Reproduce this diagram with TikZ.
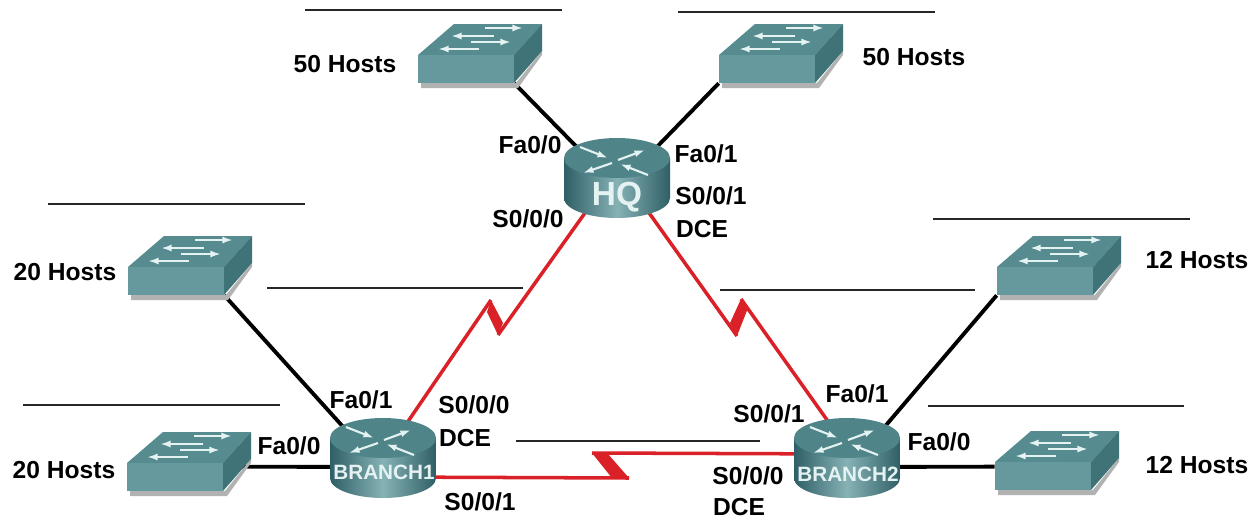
\documentclass[tikz,border=0pt]{standalone}
\usepackage{fontspec}
\setmainfont{Liberation Sans}
\usetikzlibrary{backgrounds,arrows.meta}
\definecolor{swfrontc}{HTML}{66999D}
\definecolor{swtopc}{HTML}{568B8F}
\definecolor{swsidec}{HTML}{3F7378}
\definecolor{rttopc}{HTML}{4F8489}
\definecolor{rtdark}{HTML}{2F5F66}
\definecolor{rtlight}{HTML}{86B2B5}
\definecolor{seriall}{HTML}{DA2128}
\tikzset{
	lbl/.style = {font=\fontsize{14}{16}\bfseries\selectfont,inner sep=0pt},
	rtlbl/.style = {text=white!90!teal,inner sep=0pt},
	swnode/.style = {rectangle,fill=swfrontc,minimum width=1.92cm,minimum height=.56cm,inner sep=0pt},
	rtnode/.style = {rectangle,minimum width=2.12cm,minimum height=1.6cm,inner sep=0pt},
	lanlink/.style = {line width=2.2pt,black},
	wanlink/.style = {line width=2pt,seriall},
	bolt/.style = {fill=seriall},
	noteline/.style = {line width=.9pt,black!85},
	iconarrow/.style = {white!90!teal,line width=1.2pt,-{Latex[length=6pt,width=4pt]}},
	switchicon/.pic = {
		\fill[black!30] (3,28) -- (98,28) -- (124,-4) -- (124,0) -- (100,33) -- (3,33) -- cycle;
		\fill[swtopc] (0,0) -- (36,-31) -- (124,-31) -- (96,0) -- cycle;
		\fill[swsidec] (96,0) -- (124,-31) -- (124,-4) -- (96,28) -- cycle;
		\draw[iconarrow] (67,-27) -- (105,-27);
		\draw[iconarrow] (76,-19) -- (33,-19);
		\draw[iconarrow] (53,-13) -- (93,-13);
		\draw[iconarrow] (61,-6) -- (20,-6);
	},
	routericon/.pic = {
		\shade[left color=rtdark,right color=rtdark,middle color=rtlight] (-53,-20) -- (-53,20) arc (180:0:53 and 20) -- (53,-20) -- cycle;
		\fill[rttopc] (0,-20) ellipse (53 and 20);
		\draw[iconarrow] (-37,-31) -- (-9,-20);
		\draw[iconarrow] (1,-18) -- (28,-28);
		\draw[iconarrow] (-5,-15) -- (-34,-5);
		\draw[iconarrow] (31,-3) -- (3,-14);
	}
}
\begin{document}
\begin{tikzpicture}[x=.02cm,y=-.02cm]
	\useasboundingbox (0,0) rectangle (1259,518);
	% switches
	\foreach \n/\x/\y in {swa/466/69,swb/767/69,swc/176/281,swd/175/477,swe/1045/281,swf/1043/476} {
		\pic at (\x-48,\y-14) {switchicon};
		\node[swnode] (\n) at (\x,\y) {};
	}
	% routers
	\foreach \n/\x/\y in {hq/617/178,bone/383/458,btwo/847/458} {
		\node[rtnode] (\n) at (\x,\y) {};
		\pic at (\n.center) {routericon};
	}
	\node[rtlbl,font=\fontsize{19}{22}\bfseries\selectfont] (hqname) at (617,197) {HQ};
	\node[rtlbl,font=\fontsize{11.8}{13}\bfseries\selectfont] (bonename) at (384,472) {BRANCH1};
	\node[rtlbl,font=\fontsize{11.8}{13}\bfseries\selectfont] (btwoname) at (848,474) {BRANCH2};
	% serial bends
	\coordinate (ba) at (498,335);
	\coordinate (bb) at (491,300);
	\coordinate (bc) at (737,336);
	\coordinate (bd) at (741,299);
	\coordinate (be) at (629,478);
	\coordinate (bf) at (592,453);
	\begin{scope}[on background layer]
		\draw[lanlink] (swa.south east) -- ([yshift=-.2cm]hq.center);
		\draw[lanlink] (swb.south west) -- ([yshift=-.2cm]hq.center);
		\draw[lanlink] (swc.south east) -- ([yshift=-.26cm]bone.center);
		\draw[lanlink] ([yshift=-.08cm]swd.north east) -- ([yshift=-.18cm]bone.center);
		\draw[lanlink] (swe.south west) -- ([yshift=-.26cm]btwo.center);
		\draw[lanlink] ([yshift=-.1cm]swf.north west) -- ([yshift=-.18cm]btwo.center);
		\draw[wanlink] ([yshift=.2cm]hq.center) -- (ba);
		\draw[wanlink] (bb) -- (bone.center);
		\draw[wanlink] ([yshift=.2cm]hq.center) -- (bc);
		\draw[wanlink] (bd) -- ([yshift=.2cm]btwo.center);
		\draw[wanlink] ([yshift=-.38cm]bone.center) -- (be);
		\draw[wanlink] (bf) -- ([yshift=.08cm]btwo.center);
		\fill[bolt] (bb) -- (503,323) -- (ba) -- (487,312) -- cycle;
		\fill[bolt] (bd) -- (748,308) -- (bc) -- (730,323) -- cycle;
		\fill[bolt] (bf) -- (608,454) -- (be) -- (612,478) -- cycle;
	\end{scope}
	% lines for the addresses
	\foreach \xa/\xb/\y in {305/562/10,678/935/12,48/305/204,267/523/288,720/975/290,933/1190/219,23/280/405,928/1184/406,516/760/441}
		\draw[noteline] (\xa,\y) -- (\xb,\y);
	% texts
	\foreach \x/\y/\t in {345/64/50 Hosts,914/57/50 Hosts,65/272/20 Hosts,1197/260/12 Hosts,64/470/20 Hosts,1197/465/12 Hosts,
		530/145/{Fa0/0},706/154/{Fa0/1},711/196/{S0/0/1},702/229/DCE,528/219/{S0/0/0},
		361/400/{Fa0/1},289/446/{Fa0/0},474/405/{S0/0/0},465/438/DCE,480/502/{S0/0/1},
		769/414/{S0/0/1},857/394/{Fa0/1},939/442/{Fa0/0},748/476/{S0/0/0},739/507/DCE}
		\node[lbl] at (\x,\y) {\t};
\end{tikzpicture}
\end{document}
